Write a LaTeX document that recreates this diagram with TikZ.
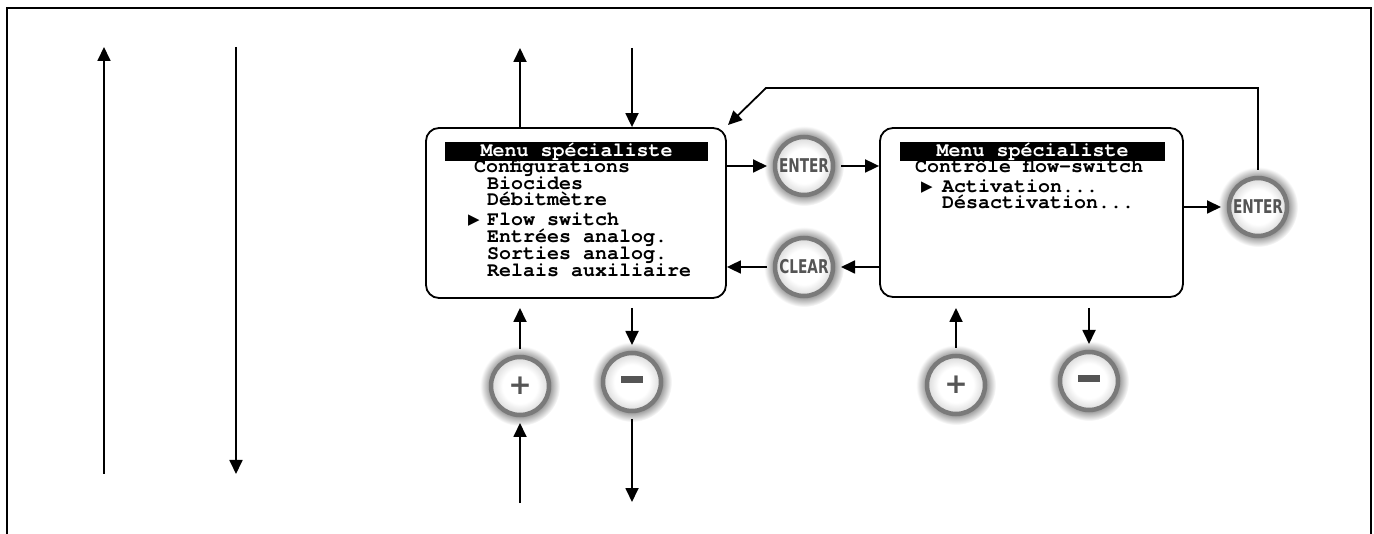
\documentclass[tikz,border=0pt]{standalone}
\usepackage{fontspec}
\setmainfont{Liberation Sans}
\newfontfamily\monofnt{TeX Gyre Cursor}
\newfontfamily\dvfnt{DejaVu Sans}
\usetikzlibrary{arrows.meta,calc}
\pgfdeclareradialshading{btnglow}{\pgfpoint{0bp}{0bp}}{color(0bp)=(black!55); color(18bp)=(black!45); color(25bp)=(white); color(50bp)=(white)}
\pgfdeclareradialshading{btnface}{\pgfpoint{0bp}{0bp}}{color(0bp)=(white); color(15bp)=(white); color(25bp)=(black!15); color(50bp)=(black!15)}
\definecolor{btntext}{HTML}{555555}
\tikzset{
  arr/.style={line width=1.8pt, -{Triangle[length=14pt,width=13pt]}},
  frameline/.style={line width=2.2pt},
  screen/.style={draw, line width=1.8pt, rounded corners=13pt, inner sep=0pt},
  hdr/.style={fill=black, text=white, inner sep=0pt, font=\monofnt\bfseries\fontsize{20}{20}\selectfont},
  ln/.style={anchor=base west, inner sep=0pt, font=\monofnt\bfseries\fontsize{20}{20}\selectfont},
  ptr/.style={anchor=base west, inner sep=0pt, font=\dvfnt\fontsize{15}{15}\selectfont},
  btn/.style={circle, minimum size=58pt, inner sep=0pt, outer sep=8pt, draw=black!52, line width=4.5pt,
     shading=btnface, text=btntext, font=\dvfnt\bfseries\fontsize{19}{19}\selectfont},
}
\newcommand{\glowat}[1]{\shade[shading=btnglow] (#1) circle (40pt);}
\begin{document}
\begin{tikzpicture}[x=1pt,y=-1pt]
\useasboundingbox (0,0) rectangle (1374,534);
% frame (open at bottom)
\coordinate (fbl) at (7,534);
\coordinate (ftl) at (7,8);
\coordinate (ftr) at (1371,8);
\coordinate (fbr) at (1371,534);
\draw[frameline] (fbl) -- (ftl) -- (ftr) -- (fbr);

% left arrows
\coordinate (la1) at (104,474);
\coordinate (la1t) at (104,47);
\coordinate (la2) at (236,47);
\coordinate (la2t) at (236,474);
\draw[arr] (la1) -- (la1t);
\draw[arr] (la2) -- (la2t);

% screen 1
\node[screen, minimum width=300pt, minimum height=170pt] (b1) at (576,213) {};
\node[hdr, minimum width=263pt, minimum height=19pt] (h1) at (576.5,151.5) {Menu spécialiste};
\node[ln] (c1) at (474,173) {Configurations};
\node[ln] (c2) at (487,190) {Biocides};
\node[ln] (c3) at (487,206) {Débitmètre};
\node[ptr] (p1) at (468,225) {▶};
\node[ln] (c4) at (487,226) {Flow switch};
\node[ln] (c5) at (487,243) {Entrées analog.};
\node[ln] (c6) at (487,260) {Sorties analog.};
\node[ln] (c7) at (487,277) {Relais auxiliaire};

% screen 2
\node[screen, minimum width=303pt, minimum height=169pt] (b2) at (1031.5,212.5) {};
\node[hdr, minimum width=265pt, minimum height=19pt] (h2) at (1032.5,151.5) {Menu spécialiste};
\node[ln] (d1) at (915,173) {Contrôle flow-switch};
\node[ptr] (p2) at (921,192) {▶};
\node[ln] (d2) at (942,193) {Activation...};
\node[ln] (d3) at (942,209) {Désactivation...};

% buttons
\glowat{804,166}
\node[btn] (enter1) at (804,166) {\scalebox{0.72}[1]{ENTER}};
\glowat{804,267}
\node[btn] (clear1) at (804,267) {\scalebox{0.72}[1]{CLEAR}};
\glowat{1258,207}
\node[btn] (enter2) at (1258,207) {\scalebox{0.72}[1]{ENTER}};
\glowat{520,386}
\node[btn, font=\dvfnt\bfseries\fontsize{28}{28}\selectfont] (plus1) at (520,386) {+};
\glowat{632,382}
\node[btn] (minus1) at (632,382) {\textcolor{btntext}{\rule[5pt]{22pt}{6.5pt}}};
\glowat{956,385}
\node[btn, font=\dvfnt\bfseries\fontsize{28}{28}\selectfont] (plus2) at (956,385) {+};
\glowat{1089,381}
\node[btn] (minus2) at (1089,381) {\textcolor{btntext}{\rule[5pt]{22pt}{6.5pt}}};

% horizontal connectors
\draw[arr] (b1.east |- enter1) -- (enter1.west);
\draw[arr] (enter1.east) -- (b2.west |- enter1);
\draw[arr] (b2.west |- clear1) -- (clear1.east);
\draw[arr] (clear1.west) -- (b1.east |- clear1);
\draw[arr] (b2.east |- enter2) -- (enter2.west);
\coordinate (loopA) at (1258,88);
\coordinate (loopB) at (766,88);
\coordinate (loopEnd) at (728,125);
\draw[arr] (enter2.north) -- (loopA) -- (loopB) -- (loopEnd);

% screen 1 vertical connectors
\coordinate (t1) at (520,48);
\coordinate (t2) at (632,48);
\draw[arr] (b1.north -| t1) -- (t1);
\draw[arr] (t2) -- (b1.north -| t2);
\coordinate (u1) at (520,308);
\draw[arr] (plus1.north) -- (u1);
\coordinate (u2) at (632,308);
\draw[arr] (u2) -- (minus1.north);
\coordinate (w1) at (520,503);
\coordinate (w2) at (632,502);
\draw[arr] (w1) -- (plus1.south);
\draw[arr] (minus1.south) -- (w2);

% screen 2 vertical connectors
\coordinate (v1) at (956,308);
\coordinate (v2) at (1089,308);
\draw[arr] (plus2.north) -- (v1);
\draw[arr] (v2) -- (minus2.north);
\end{tikzpicture}
\end{document}
